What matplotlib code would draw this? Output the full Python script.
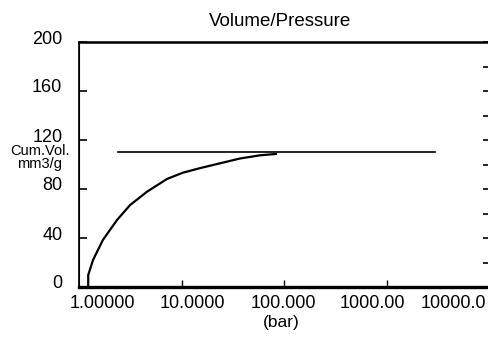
import matplotlib
matplotlib.use('Agg')
import matplotlib.pyplot as plt
import matplotlib.transforms as mtransforms

plt.rcParams['font.family'] = ['Liberation Sans', 'DejaVu Sans']

# intrusion curve (pressure in bar, cumulative volume in mm3/g)
pressure = [1.23, 1.23, 1.37, 1.71, 2.35, 3.15, 4.61, 7.22, 10.3, 15.1, 23.8, 37.2, 58.3, 83.5]
volume = [0, 9.8, 22, 38.4, 54.7, 66.9, 77.8, 88.2, 93.3, 97.0, 101.0, 104.9, 107.5, 108.6]

# flat line
flat_pressure = [2.4, 2960]
flat_volume = [110.4, 110.4]

y_ticks = [0, 40, 80, 120, 160, 200]
x_tick_marks = [10, 100, 1000]
x_labels = ['1.00000', '10.0000', '100.000', '1000.00', '10000.0']
x_label_pos = [0.056, 0.276, 0.498, 0.715, 0.912]

fig = plt.figure(figsize=(4.88, 3.45), dpi=100)
ax = fig.add_axes([79 / 488, 58 / 345, 410 / 488, 245 / 345])

ax.plot(pressure, volume, color='black', lw=1.6)
ax.plot(flat_pressure, flat_volume, color='black', lw=1.2)

ax.set_xscale('log')
ax.set_xlim(1, 10000)
ax.set_ylim(0, 200)

ax.set_yticks(y_ticks)
ax.tick_params(axis='y', direction='in', length=6, width=1.2, pad=12, labelsize=13)
# labels sit a little above their ticks in the original
shift = mtransforms.ScaledTranslation(0, 0.05, fig.dpi_scale_trans)
for lbl in ax.get_yticklabels():
    lbl.set_transform(lbl.get_transform() + shift)

ax.set_xticks(x_tick_marks)
ax.set_xticklabels([])
ax.xaxis.set_minor_locator(matplotlib.ticker.NullLocator())
ax.tick_params(axis='x', direction='in', length=5, width=1)

ax.spines['left'].set_linewidth(1.2)
ax.spines['top'].set_linewidth(1.8)
ax.spines['bottom'].set_linewidth(2.4)
ax.spines['right'].set_linewidth(1.2)

for pos, lab in zip(x_label_pos, x_labels):
    ax.text(pos, -0.069, lab, transform=ax.transAxes, ha='center', va='center', fontsize=13)

ax2 = ax.twinx()
ax2.set_ylim(0, 10)
ax2.set_yticks(range(11))
ax2.tick_params(axis='y', direction='in', length=4, width=1.2, labelright=False)

fig.text(280.5 / 488, 1 - 22 / 345, 'Volume/Pressure', ha='center', va='center', fontsize=13.5)
fig.text(281 / 488, 1 - 323 / 345, '(bar)', ha='center', va='center', fontsize=12.5)
fig.text(40 / 488, 1 - 151 / 345, 'Cum.Vol.', ha='center', va='center', fontsize=10.5)
fig.text(40 / 488, 1 - 164 / 345, 'mm3/g', ha='center', va='center', fontsize=10.5)

fig.savefig('out.png', dpi=100)
